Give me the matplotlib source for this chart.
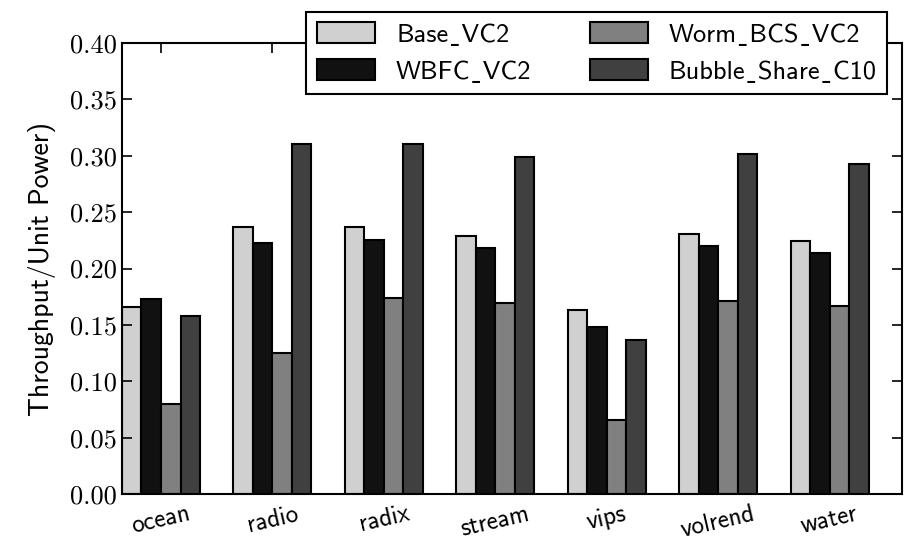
import matplotlib
matplotlib.use("Agg")
import matplotlib.pyplot as plt
import numpy as np

benchmarks = ["ocean", "radio", "radix", "stream", "vips", "volrend", "water"]
series_names = ["Base_VC2", "WBFC_VC2", "Worm_BCS_VC2", "Bubble_Share_C10"]
base_vc2 = [0.166, 0.237, 0.237, 0.229, 0.163, 0.231, 0.224]
wbfc_vc2 = [0.173, 0.223, 0.225, 0.218, 0.148, 0.220, 0.214]
worm_bcs_vc2 = [0.080, 0.125, 0.174, 0.169, 0.066, 0.171, 0.167]
bubble_share_c10 = [0.158, 0.310, 0.310, 0.299, 0.137, 0.302, 0.293]
colors = ["#d0d0d0", "#111111", "#808080", "#404040"]

sans = ["cmss10", "DejaVu Sans"]

fig = plt.figure(figsize=(9.05, 5.43), dpi=100)
ax = fig.add_axes([0.1348, 0.0902, 0.862, 0.8306])

ind = np.arange(len(benchmarks))
width = 0.175
all_series = [base_vc2, wbfc_vc2, worm_bcs_vc2, bubble_share_c10]
for k, vals in enumerate(all_series):
    # cmss10 has a dot accent where "_" should be, so use a low macron instead
    lab = series_names[k].replace("_", "\u02cd")
    ax.bar(ind + k * width, vals, width, align="edge", color=colors[k],
           edgecolor="black", linewidth=1.5, label=lab)

ax.set_xlim(0, len(benchmarks))
ax.set_ylim(0, 0.40)
ax.set_xticks(ind + 2 * width)
ax.set_xticklabels(benchmarks, rotation=13, fontsize=18, family=sans)
yt = np.arange(0, 0.41, 0.05)
ax.set_yticks(yt)
ax.set_yticklabels(["%.2f" % v for v in yt], fontsize=19, family=["cmr10", "DejaVu Serif"])
ax.tick_params(direction="in", top=True, right=True, length=7, width=1.2)
ax.tick_params(axis="x", pad=6)
for sp in ax.spines.values():
    sp.set_linewidth(1.5)

ax.set_ylabel("Throughput/Unit Power)", fontsize=20, family=sans, labelpad=10)

leg = ax.legend(loc="upper right", bbox_to_anchor=(0.981, 1.069), ncol=2,
                borderaxespad=0, fancybox=False, framealpha=1, edgecolor="black",
                prop={"family": sans, "size": 19},
                handlelength=2.2, handleheight=0.85, handletextpad=0.8,
                labelspacing=0.45, borderpad=0.4, columnspacing=2.2)
leg.get_frame().set_linewidth(1.5)

fig.savefig("out.png", dpi=100)
